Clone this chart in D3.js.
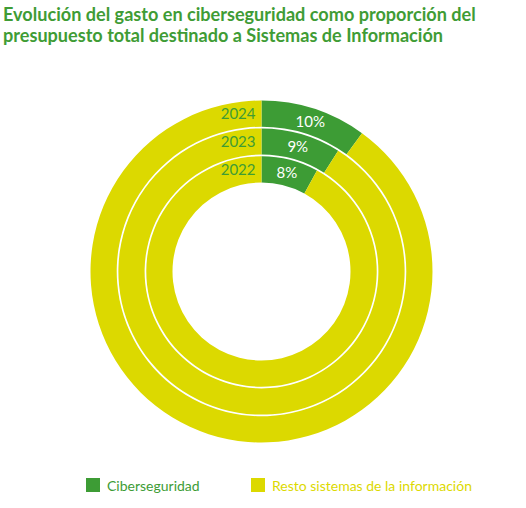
<!DOCTYPE html>
<html>
<head>
  <meta charset="utf-8" />
  <title>Gasto en ciberseguridad</title>
  <script src="https://d3js.org/d3.v7.min.js"></script>
  <style>
    body {
      margin: 0;
      background: #fff;
      font-family: Lato, "Open Sans", sans-serif;
    }
    svg {
      display: block;
    }
    .title {
      font-weight: bold;
      font-size: 18.1px;
      fill: #3f9c35;
    }
    .year {
      font-size: 15px;
      fill: #3f9c35;
    }
    .pct {
      font-size: 15px;
      fill: #fff;
    }
    .legend text {
      font-size: 14px;
    }
  </style>
</head>
<body>
<svg width="526" height="508"></svg>
<script>
  const years = ["2022", "2023", "2024"];
  const ciberseguridad = [8, 9, 10];
  const resto = [92, 91, 90];
  const categories = ["Ciberseguridad", "Resto sistemas de la información"];
  const titleLines = [
    "Evolución del gasto en ciberseguridad como proporción del",
    "presupuesto total destinado a Sistemas de Información"
  ];

  const svg = d3.select("svg");
  const color = d3.scaleOrdinal().domain(categories).range(["#3d9c35", "#dcd900"]);

  svg.selectAll(".title")
    .data(titleLines)
    .join("text")
    .attr("class", "title")
    .attr("x", 3)
    .attr("y", (d, i) => 21 + i * 21)
    .text(d => d);

  const cx = 261.5, cy = 271.5;
  const g = svg.append("g").attr("transform", `translate(${cx},${cy})`);

  // rings from inner (2022) to outer (2024)
  const radius = d3.scaleBand().domain(years).range([89, 171]).paddingInner(0.06);

  const pie = d3.pie().sort(null).value(d => d.value);

  years.forEach((year, i) => {
    const values = [
      { key: categories[0], value: ciberseguridad[i] },
      { key: categories[1], value: resto[i] }
    ];
    const r0 = radius(year), r1 = r0 + radius.bandwidth();
    const arc = d3.arc().innerRadius(r0).outerRadius(r1);
    const arcs = pie(values);

    g.append("g").selectAll("path")
      .data(arcs)
      .join("path")
      .attr("d", arc)
      .attr("fill", d => color(d.data.key));

    g.append("text")
      .attr("class", "pct")
      .attr("transform", `translate(${arc.centroid(arcs[0])})`)
      .attr("text-anchor", "middle")
      .attr("dy", "0.36em")
      .text(ciberseguridad[i] + "%");

    g.append("text")
      .attr("class", "year")
      .attr("x", -6)
      .attr("y", -(r0 + r1) / 2)
      .attr("text-anchor", "end")
      .attr("dy", "0.36em")
      .text(year);
  });

  const legend = svg.append("g").attr("class", "legend")
    .selectAll("g")
    .data(categories)
    .join("g")
    .attr("transform", (d, i) => `translate(${[86, 251][i]},478)`);

  legend.append("rect")
    .attr("width", 14)
    .attr("height", 14)
    .attr("fill", d => color(d));

  legend.append("text")
    .attr("x", 21)
    .attr("y", 12.5)
    .attr("fill", d => color(d))
    .text(d => d);
</script>
</body>
</html>
